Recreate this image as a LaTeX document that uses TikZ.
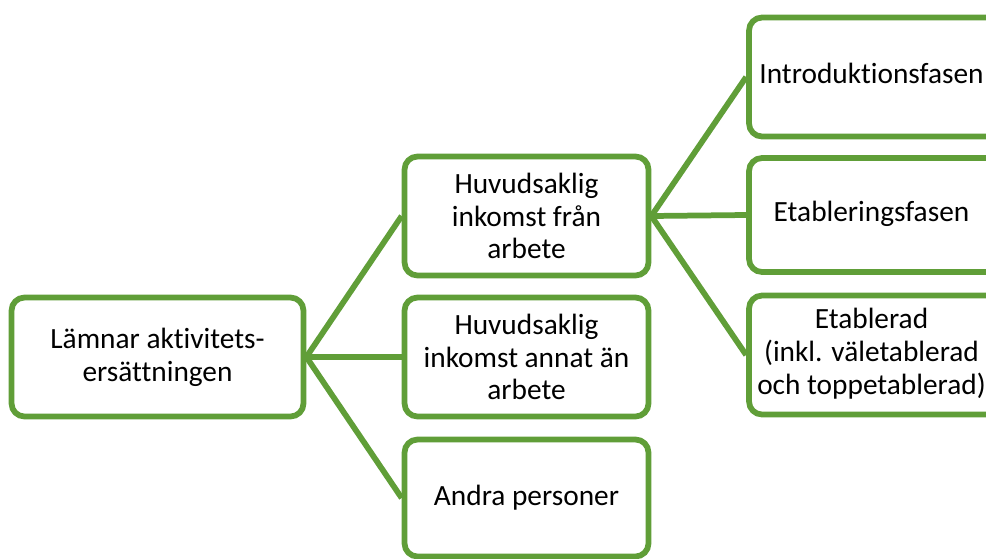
\documentclass[tikz,border=0pt]{standalone}
\usepackage{fontspec}
\setmainfont{Carlito}[Ligatures=NoCommon]
\usepackage{tikz}
\definecolor{boxgreen}{RGB}{96,158,56}
% right column: box runs past the edge, text sits a bit left of its middle
\newcommand{\rboxtext}[1]{\begin{tabular}{@{}c@{}}#1\end{tabular}\kern0.3cm}
\tikzset{
	boxbase/.style={draw=boxgreen, line width=1.15mm, rounded corners=2.6mm, fill=white,
		minimum height=2.38cm, inner sep=0pt,
		font=\fontsize{16.7}{18.6}\selectfont},
	box/.style={boxbase, align=center},
	rbox/.style={boxbase, minimum width=5.2cm},
	link/.style={draw=boxgreen, line width=1.15mm}
}

\begin{document}
\begin{tikzpicture}[x=0.02cm, y=-0.02cm]
			%%%%% START %%%%%
			
			\useasboundingbox (0, 0) rectangle (986, 558);
			\clip (0, 0) rectangle (986, 558);
			
			\node[box, minimum width=5.84cm] (lamnar) at (157.5, 357) {Lämnar aktivitets-\\ersättningen};
			
			\node[box, minimum width=4.88cm] (arbete) at (526.5, 216) {Huvudsaklig\\inkomst från\\arbete};
			\node[box, minimum width=4.88cm] (annat) at (526.5, 357) {Huvudsaklig\\inkomst annat än\\arbete};
			\node[box, minimum width=4.88cm, minimum height=2.34cm] (andra) at (526.5, 498) {Andra personer};
			
			\node[rbox] (intro) at (879, 77) {\rboxtext{Introduktionsfasen}};
			\node[rbox, minimum height=2.28cm] (etabl) at (879, 215) {\rboxtext{Etableringsfasen}};
			\node[rbox] (etablerad) at (879, 355) {\rboxtext{Etablerad\\(inkl. väletablerad\\och toppetablerad)}};
			
			\draw[link] (lamnar.east) -- (arbete.west);
			\draw[link] (lamnar.east) -- (annat.west);
			\draw[link] (lamnar.east) -- (andra.west);
			
			\draw[link] (arbete.east) -- (intro.west);
			\draw[link] (arbete.east) -- (etabl.west);
			\draw[link] (arbete.east) -- (etablerad.west);
			
			%%%%% END %%%%%
\end{tikzpicture}
\end{document}
